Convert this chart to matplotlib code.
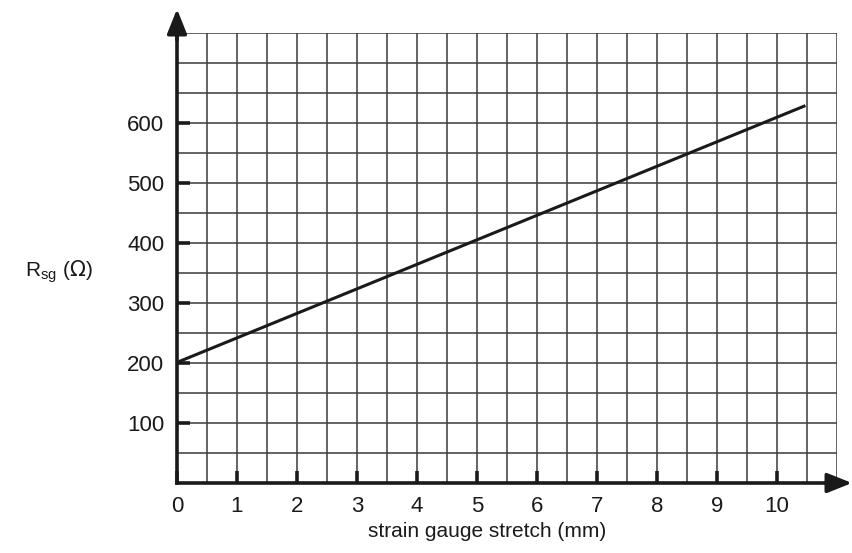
import numpy as np
import matplotlib.pyplot as plt

plt.rcParams['font.family'] = ['Liberation Sans', 'DejaVu Sans']

# data
stretch_mm = [0, 10.45]
resistance = [201, 628]
x_ticks = [0, 1, 2, 3, 4, 5, 6, 7, 8, 9, 10]
y_ticks = [100, 200, 300, 400, 500, 600]

W, H = 852, 553
fig = plt.figure(figsize=(W / 100, H / 100), dpi=100)
ax = fig.add_axes([177 / W, 70 / H, 660 / W, 450 / H])
ax.set_xlim(0, 11)
ax.set_ylim(0, 750)

# grid every 0.5 mm and 50 ohm
for gx in np.arange(0.5, 11.01, 0.5):
    ax.axvline(gx, color='#3a3a3a', lw=1.1, zorder=1)
for gy in np.arange(50, 750.1, 50):
    ax.axhline(gy, color='#3a3a3a', lw=1.1, zorder=1)

ax.plot(stretch_mm, resistance, color='#1a1a1a', lw=2.2, zorder=3)

for s in ['top', 'right']:
    ax.spines[s].set_visible(False)
for s in ['left', 'bottom']:
    ax.spines[s].set_linewidth(2.6)
    ax.spines[s].set_color('#1a1a1a')

# arrows on the axes (figure pixels, origin bottom-left)
arrow = dict(arrowstyle='-|>,head_length=1.5,head_width=0.6',
             color='#1a1a1a', lw=2.6, shrinkA=0, shrinkB=0)
ax.annotate('', xy=(W, 70), xycoords='figure pixels', xytext=(825, 70),
            textcoords='figure pixels', arrowprops=arrow)
ax.annotate('', xy=(177, H - 9), xycoords='figure pixels', xytext=(177, H - 40),
            textcoords='figure pixels', arrowprops=arrow)

ax.set_xticks(x_ticks)
ax.set_xticklabels([str(v) for v in x_ticks])
ax.set_yticks(y_ticks)
ax.set_yticklabels([str(v) for v in y_ticks])
ax.tick_params(axis='both', direction='in', length=9, width=2.6, color='#1a1a1a',
               labelsize=16, labelcolor='#1a1a1a')
ax.tick_params(axis='x', pad=9)
ax.tick_params(axis='y', pad=9)

fig.text(487 / W, 16 / H, 'strain gauge stretch (mm)', fontsize=15,
         color='#1a1a1a', ha='center', va='baseline')
fig.text(25 / W, 1 - 272 / H, r'R$_\mathregular{sg}$ ($\Omega$)', fontsize=15,
         color='#1a1a1a', va='center', ha='left')

fig.savefig('out.png', dpi=100)
